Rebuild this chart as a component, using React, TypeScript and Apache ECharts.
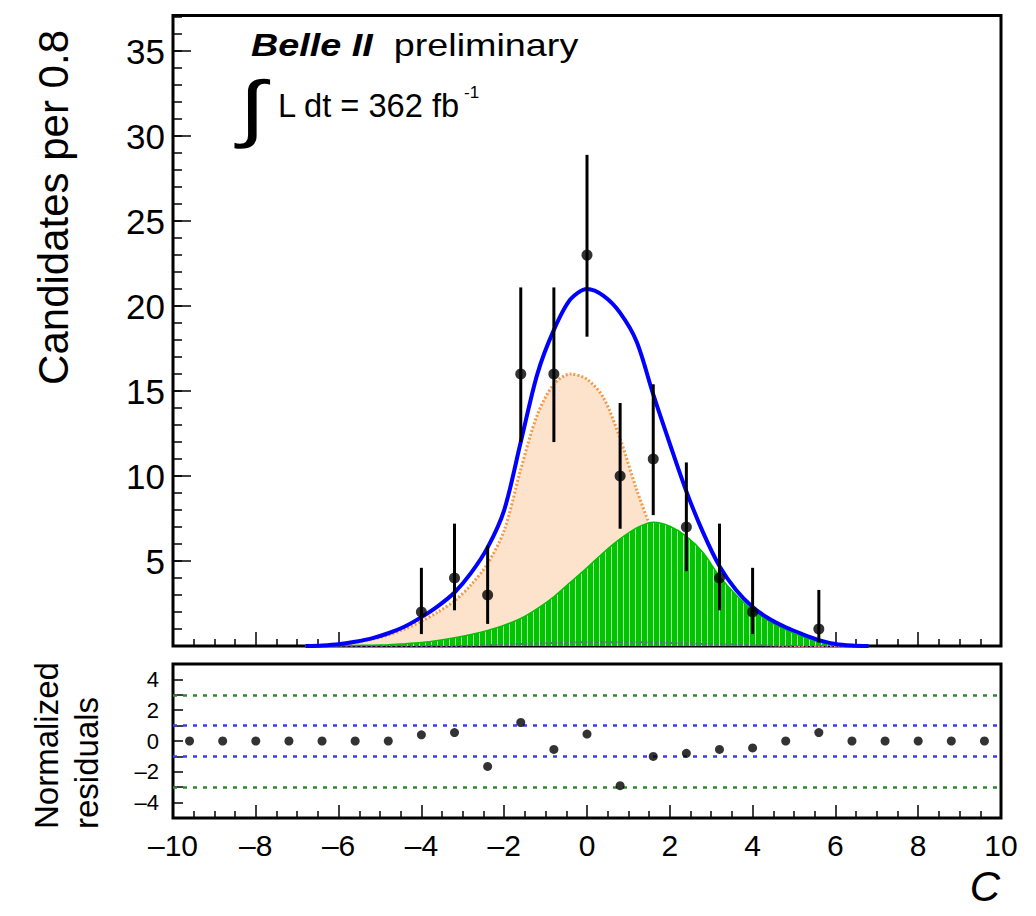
import React, { useEffect, useRef } from 'react';
import * as echarts from 'echarts';

const FONT = '"Liberation Sans", Arial, Helvetica, sans-serif';

// Data points (bin width 0.8)
const binCenters = [-4.0, -3.2, -2.4, -1.6, -0.8, 0.0, 0.8, 1.6, 2.4, 3.2, 4.0, 5.6];
const counts = [2, 4, 3, 16, 16, 23, 10, 11, 7, 4, 2, 1];
const errLow = [0.7, 2.1, 1.3, 12.0, 12.0, 18.2, 6.9, 7.7, 4.4, 2.1, 0.7, 0.2];
const errHigh = [4.6, 7.2, 5.9, 21.1, 21.1, 28.9, 14.3, 15.4, 10.8, 7.2, 4.6, 3.3];

// Fit curves sampled along C
const curveX = [-6.8, -6.4, -6.0, -5.6, -5.2, -4.8, -4.4, -4.0, -3.6, -3.2, -2.8, -2.4, -2.0, -1.6, -1.2, -0.8, -0.4, 0.0, 0.4, 0.8, 1.2, 1.6, 2.0, 2.4, 2.8, 3.2, 3.6, 4.0, 4.4, 4.8, 5.2, 5.6, 6.0, 6.4, 6.8];
const totalFit = [0, 0.03, 0.1, 0.25, 0.45, 0.75, 1.15, 1.7, 2.35, 3.15, 4.3, 5.8, 8.0, 12.0, 16.0, 18.6, 20.4, 21.0, 20.6, 19.6, 17.9, 14.8, 11.9, 9.1, 6.7, 4.7, 3.3, 2.3, 1.6, 1.1, 0.7, 0.35, 0.12, 0.03, 0];
const signalFit = [0, 0.02, 0.08, 0.2, 0.4, 0.65, 1.0, 1.45, 2.0, 2.65, 3.6, 4.85, 6.8, 10.4, 13.6, 15.4, 16.0, 15.7, 14.6, 12.2, 9.2, 6.6, 4.5, 2.6, 1.2, 0.6, 0.3, 0.15, 0.08, 0.04, 0.02, 0, 0, 0, 0];
const bkgFit = [0, 0.01, 0.02, 0.03, 0.05, 0.08, 0.13, 0.2, 0.32, 0.48, 0.68, 0.92, 1.22, 1.62, 2.2, 2.9, 3.75, 4.6, 5.5, 6.3, 6.95, 7.28, 7.05, 6.45, 5.5, 4.1, 3.0, 2.1, 1.45, 0.95, 0.55, 0.25, 0.08, 0.02, 0];
const otherFit = [0, 0, 0, 0, 0, 0, 0, 0, 0, 0, 0.02, 0.05, 0.08, 0.12, 0.15, 0.18, 0.2, 0.22, 0.22, 0.22, 0.22, 0.2, 0.18, 0.15, 0.12, 0.1, 0.08, 0.05, 0.03, 0.02, 0, 0, 0, 0, 0];

// Normalized residuals per bin
const residX = [-9.6, -8.8, -8.0, -7.2, -6.4, -5.6, -4.8, -4.0, -3.2, -2.4, -1.6, -0.8, 0.0, 0.8, 1.6, 2.4, 3.2, 4.0, 4.8, 5.6, 6.4, 7.2, 8.0, 8.8, 9.6];
const residuals = [0, 0, 0, 0, 0, 0, 0, 0.4, 0.55, -1.65, 1.2, -0.55, 0.45, -2.9, -1.0, -0.8, -0.55, -0.45, 0, 0.55, 0, 0, 0, 0, 0];

const fmtMinus = (v: number) => (v < 0 ? '\u2013' + String(-v) : String(v));

export default function App() {
  const ref = useRef<HTMLDivElement>(null);
  useEffect(() => {
    if (!ref.current) return;
    const chart = echarts.init(ref.current, undefined, { renderer: 'svg' });

    const cv = document.createElement('canvas');
    cv.width = 6;
    cv.height = 6;
    const ctx = cv.getContext('2d');
    if (ctx) {
      ctx.fillStyle = '#00c400';
      ctx.fillRect(0, 0, 6, 6);
      ctx.fillStyle = 'rgba(230,255,230,0.75)';
      ctx.fillRect(5, 0, 1, 6);
    }

    const gridL = 173;
    const gridW = 828;
    const tickStyle = { color: '#000', width: 1.5 };
    const noLine = { show: false, onZero: false };

    const option: any = {
      animation: false,
      backgroundColor: '#fff',
      grid: [
        { left: gridL, top: 15.5, width: gridW, height: 630.5, show: true, borderColor: '#000', borderWidth: 3, backgroundColor: 'transparent' },
        { left: gridL, top: 664, width: gridW, height: 154, show: true, borderColor: '#000', borderWidth: 3, backgroundColor: 'transparent' },
      ],
      xAxis: [
        {
          gridIndex: 0, type: 'value', min: -10, max: 10, interval: 2, position: 'bottom',
          axisLine: noLine,
          axisTick: { show: true, inside: true, length: 14, lineStyle: tickStyle },
          minorTick: { show: true, splitNumber: 4, length: 7, lineStyle: tickStyle },
          axisLabel: { show: false },
          splitLine: { show: false },
        },
        {
          gridIndex: 1, type: 'value', min: -10, max: 10, interval: 2, position: 'bottom',
          axisLine: noLine,
          axisTick: { show: true, inside: true, length: 13, lineStyle: tickStyle },
          minorTick: { show: true, splitNumber: 4, length: 7, lineStyle: tickStyle },
          axisLabel: { show: true, color: '#000', fontFamily: FONT, fontSize: 30, margin: 12, formatter: fmtMinus },
          splitLine: { show: false },
        },
      ],
      yAxis: [
        {
          gridIndex: 0, type: 'value', min: 0, max: 37.1, interval: 5, position: 'left',
          axisLine: noLine,
          axisTick: { show: true, inside: true, length: 18, lineStyle: tickStyle },
          axisLabel: {
            show: true, color: '#000', fontFamily: FONT, fontSize: 35, margin: 8,
            formatter: (v: number) => (v > 0 && Math.abs(v % 5) < 1e-9 ? String(v) : ''),
          },
          splitLine: { show: false },
        },
        {
          gridIndex: 0, type: 'value', min: 0, max: 37.1, interval: 1, position: 'left',
          axisLine: noLine,
          axisTick: { show: true, inside: true, length: 9, lineStyle: tickStyle },
          axisLabel: { show: false },
          splitLine: { show: false },
        },
        {
          gridIndex: 1, type: 'value', min: -5, max: 5, interval: 1, position: 'left',
          axisLine: noLine,
          axisTick: { show: true, inside: true, length: 10, lineStyle: tickStyle },
          axisLabel: {
            show: true, color: '#000', fontFamily: FONT, fontSize: 22, margin: 14,
            formatter: (v: number) => (Math.abs(v % 2) < 1e-9 ? fmtMinus(v) : ''),
          },
          splitLine: { show: false },
        },
      ],
      series: [
        {
          name: 'signal', type: 'line', xAxisIndex: 0, yAxisIndex: 0,
          data: curveX.map((x, i) => [x, signalFit[i]]),
          smooth: 0.3, showSymbol: false, silent: true, z: 1,
          lineStyle: { color: '#f39a48', width: 3, type: [2, 2] },
          areaStyle: { color: '#fde2cc', opacity: 1 },
        },
        {
          name: 'background', type: 'line', xAxisIndex: 0, yAxisIndex: 0,
          data: curveX.map((x, i) => [x, bkgFit[i]]),
          smooth: 0.3, showSymbol: false, silent: true, z: 2,
          lineStyle: { color: '#00c000', width: 1.5 },
          areaStyle: { color: { image: cv, repeat: 'repeat' }, opacity: 1 },
        },
        {
          name: 'other', type: 'line', xAxisIndex: 0, yAxisIndex: 0,
          data: curveX.map((x, i) => [x, otherFit[i]]),
          smooth: 0.3, showSymbol: false, silent: true, z: 3,
          lineStyle: { color: '#8e44c8', width: 2, type: [2, 3] },
        },
        {
          name: 'total', type: 'line', xAxisIndex: 0, yAxisIndex: 0,
          data: curveX.map((x, i) => [x, totalFit[i]]),
          smooth: 0.3, showSymbol: false, silent: true, z: 4,
          lineStyle: { color: '#0000ff', width: 4 },
        },
        {
          name: 'errors', type: 'custom', xAxisIndex: 0, yAxisIndex: 0, z: 5, silent: true,
          data: binCenters.map((c, i) => [c, errLow[i], errHigh[i]]),
          encode: { x: 0, y: [1, 2] },
          renderItem: (params: any, api: any) => {
            const x = api.value(0);
            const p1 = api.coord([x, api.value(1)]);
            const p2 = api.coord([x, api.value(2)]);
            return {
              type: 'line',
              shape: { x1: p1[0], y1: p1[1], x2: p2[0], y2: p2[1] },
              style: { stroke: '#000', lineWidth: 3 },
            };
          },
        },
        {
          name: 'data', type: 'scatter', xAxisIndex: 0, yAxisIndex: 0, z: 6, silent: true,
          data: binCenters.map((c, i) => [c, counts[i]]),
          symbol: 'circle', symbolSize: 11,
          itemStyle: { color: '#000' },
        },
        {
          name: 'residuals', type: 'scatter', xAxisIndex: 1, yAxisIndex: 2, z: 6, silent: true,
          data: residX.map((c, i) => [c, residuals[i]]),
          symbol: 'circle', symbolSize: 9,
          itemStyle: { color: '#000' },
          markLine: {
            silent: true, symbol: 'none', label: { show: false }, animation: false,
            lineStyle: { width: 2.5, type: [4, 6] },
            data: [
              { yAxis: 3, lineStyle: { color: '#2b8a2b', width: 2.5, type: [4, 6] } },
              { yAxis: -3, lineStyle: { color: '#2b8a2b', width: 2.5, type: [4, 6] } },
              { yAxis: 1, lineStyle: { color: '#3a3aff', width: 2.5, type: [4, 6] } },
              { yAxis: -1, lineStyle: { color: '#3a3aff', width: 2.5, type: [4, 6] } },
            ],
          },
        },
      ],
      graphic: [
        {
          type: 'text', x: 251, y: 45, scaleX: 1.18,
          style: {
            text: '{b|Belle II}  {n|preliminary}',
            fontFamily: FONT, fontSize: 32, fill: '#000', verticalAlign: 'middle', align: 'left',
            rich: {
              b: { fontFamily: FONT, fontSize: 32, fontWeight: 'bold', fontStyle: 'italic', fill: '#000' },
              n: { fontFamily: FONT, fontSize: 32, fill: '#000' },
            },
          },
        },
        {
          type: 'text', x: 239, y: 107, scaleX: 1.3,
          style: { text: '\u222B', fontFamily: FONT, fontSize: 74, fill: '#000', align: 'left', verticalAlign: 'middle' },
        },
        {
          type: 'text', x: 278, y: 105, scaleX: 0.96,
          style: { text: 'L dt = 362 fb', fontFamily: FONT, fontSize: 34, fill: '#000', align: 'left', verticalAlign: 'middle' },
        },
        {
          type: 'text', x: 464, y: 92,
          style: { text: '-1', fontFamily: FONT, fontSize: 17, fill: '#000', align: 'left', verticalAlign: 'middle' },
        },
        {
          type: 'text', x: 53, y: 30, rotation: Math.PI / 2,
          style: { text: 'Candidates per 0.8', fontFamily: FONT, fontSize: 42, fill: '#000', align: 'right', verticalAlign: 'middle' },
        },
        {
          type: 'text', x: 46, y: 829, rotation: Math.PI / 2,
          style: { text: 'Normalized', fontFamily: FONT, fontSize: 33, fill: '#000', align: 'left', verticalAlign: 'middle' },
        },
        {
          type: 'text', x: 86, y: 829, rotation: Math.PI / 2,
          style: { text: 'residuals', fontFamily: FONT, fontSize: 33, fill: '#000', align: 'left', verticalAlign: 'middle' },
        },
        {
          type: 'text', x: 985, y: 886,
          style: { text: 'C', fontFamily: FONT, fontSize: 42, fontStyle: 'italic', fill: '#000', align: 'center', verticalAlign: 'middle' },
        },
      ],
    };

    chart.setOption(option);
    return () => chart.dispose();
  }, []);

  return (
    <div
      ref={ref}
      style={{ position: 'absolute', left: 0, top: 0, width: 1036, height: 916, background: '#fff' }}
    />
  );
}
